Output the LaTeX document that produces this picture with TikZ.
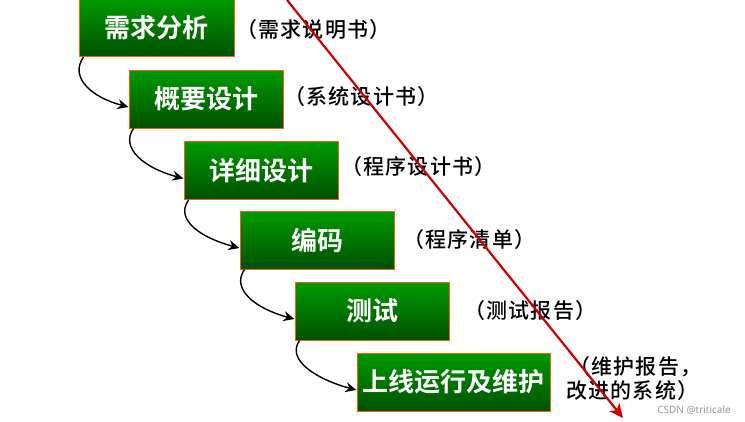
\documentclass[tikz,border=0pt]{standalone}
\usepackage{fontspec}
\setmainfont{Liberation Serif}
\newfontfamily\cjk[LetterSpace=6]{Noto Sans CJK SC Medium}
\newfontfamily\cjkbold{Noto Sans CJK SC Bold}
\newfontfamily\wmfont{Noto Sans}
\usetikzlibrary{arrows.meta,calc}
\definecolor{boxtop}{RGB}{0,155,0}
\definecolor{boxbot}{RGB}{0,80,0}
\definecolor{boxedge}{RGB}{240,100,10}
\definecolor{redline}{RGB}{204,0,0}
\tikzset{
  stagebox/.style={rectangle, draw=boxedge, line width=1pt, top color=boxtop, bottom color=boxbot,
    minimum height=58pt, inner sep=0pt, text=white, font=\cjkbold\fontsize{26}{28}\selectfont},
  doclabel/.style={anchor=west, inner sep=0pt, font=\cjk\fontsize{21}{23}\selectfont, text=black},
  flowarrow/.style={draw=black, line width=1.4pt, -{Stealth[length=11pt,width=10pt]}},
}
\begin{document}
\begin{tikzpicture}[x=1pt,y=-1pt]
\useasboundingbox (0,0) rectangle (745,421);
\fill[white] (0,0) rectangle (745,421);
\node[stagebox, minimum width=155pt] (b1) at (156.5,27.5) {需求分析};
\node[stagebox, minimum width=154pt] (b2) at (206,99) {概要设计};
\node[stagebox, minimum width=154pt] (b3) at (261,170.5) {详细设计};
\node[stagebox, minimum width=154pt] (b4) at (317,240) {编码};
\node[stagebox, minimum width=154pt] (b5) at (372,311) {测试};
\node[stagebox, minimum width=193pt] (b6) at (453.5,382) {上线运行及维护};

\node[doclabel] (l1) at (236,30) {（需求说明书）};
\node[doclabel] (l2) at (284,97) {（系统设计书）};
\node[doclabel] (l3) at (341,167) {（程序设计书）};
\node[doclabel] (l4) at (403,240) {（程序清单）};
\node[doclabel] (l5) at (464,311) {（测试报告）};
\node[doclabel] (l6a) at (569,367) {（维护报告，};
\node[doclabel] (l6b) at (566,391) {改进的系统）};

\foreach \a/\b in {b1/b2,b2/b3,b3/b4,b4/b5,b5/b6}{
  \draw[flowarrow] ($(\a.south west)+(5,0)$) .. controls +(-14,20) and +(-38,-10) .. ($(\b.west)+(0,8)$);
}

\coordinate (rs) at (287,0);
\coordinate (re) at (623,418);
\draw[redline, line width=2.2pt, -{Stealth[length=14pt,width=13pt,inset=4pt]}] (rs) -- (re);

\node[anchor=east, inner sep=0pt, font=\wmfont\fontsize{10}{12}\selectfont, text=black!40] (wm) at (731,410) {CSDN @triticale};
\end{tikzpicture}
\end{document}
